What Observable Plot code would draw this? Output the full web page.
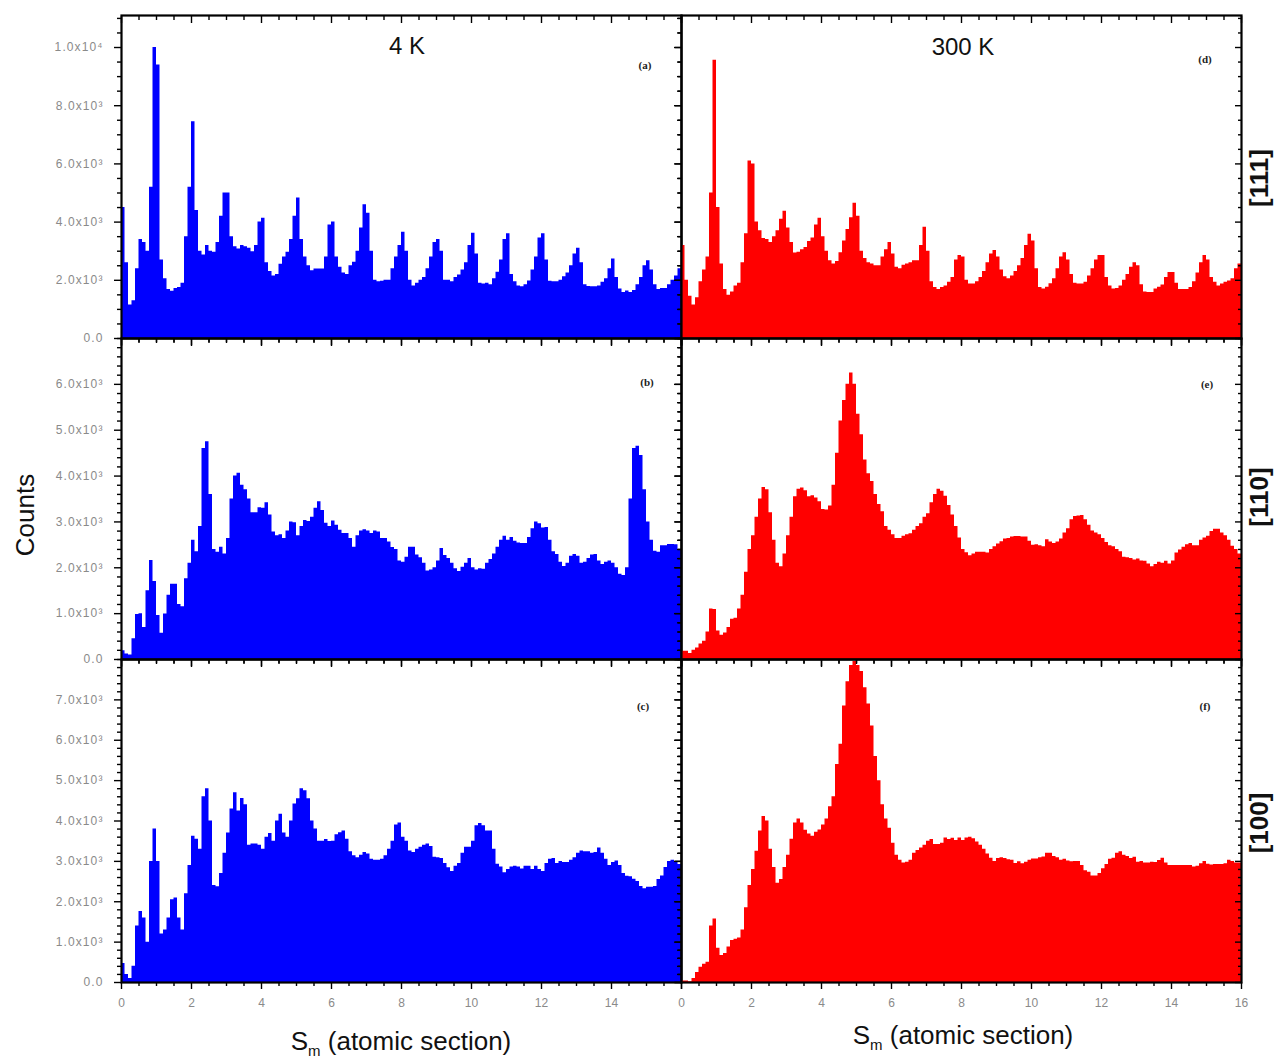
<!DOCTYPE html>
<html><head><meta charset="utf-8">
<script src="https://cdn.jsdelivr.net/npm/d3@7"></script>
<script src="https://cdn.jsdelivr.net/npm/@observablehq/plot@0.6"></script>
<style>
body{margin:0;background:#fff;}
#root{position:relative;width:1274px;height:1059px;overflow:hidden;background:#fff;font-family:"Liberation Sans",Arial,sans-serif;color:#111;}
.abs{position:absolute;transform:translate(-50%,-50%);white-space:nowrap;line-height:1;}
.rot{transform:translate(-50%,-50%) rotate(-90deg);}
.plab{font-family:"Liberation Serif","Times New Roman",serif;font-weight:bold;font-size:11px;color:#222;}
.temp{font-size:24px;}
.dir{font-size:26px;font-weight:bold;}
.xlab{font-size:26px;}
.xlab sub{font-size:15px;vertical-align:-0.45em;}
g[aria-label="y-axis tick label"] text{letter-spacing:1.1px;}
</style></head>
<body><div id="root"></div>
<script>
// ---------- data (counts in units of 10^3) ----------
const binStart = Array.from({length: 160}, (_, i) => i / 10);   // S_m bin starts, width 0.1

// 4 K, [111]  (a)
const countsA = [4.5,2.6,1.15,1.3,2.4,3.4,3.3,3.0,5.2,10.0,
 9.4,2.7,2.05,1.68,1.62,1.72,1.75,1.9,3.5,5.2,
 7.45,4.4,3.0,2.87,3.2,3.0,2.96,3.3,4.2,5.0,
 5.0,3.5,3.15,3.08,3.2,3.15,3.1,2.98,3.2,4.0,
 4.13,2.6,2.3,2.15,2.2,2.55,2.8,2.96,3.4,4.2,
 4.83,3.4,2.8,2.5,2.33,2.39,2.39,2.39,2.8,3.9,
 4.0,2.8,2.45,2.25,2.2,2.5,2.62,3.0,3.8,4.6,
 4.3,3.0,2.0,1.95,1.97,2.0,2.0,2.4,2.8,3.2,
 3.65,3.0,2.0,1.8,1.9,2.0,2.1,2.4,2.8,3.3,
 3.4,3.0,2.0,2.0,1.95,2.1,2.18,2.35,2.6,3.2,
 3.62,2.9,1.9,1.87,1.9,1.85,2.05,2.28,2.7,3.4,
 3.6,2.2,1.95,1.8,1.78,1.85,1.98,2.35,2.8,3.45,
 3.6,2.7,1.97,1.95,1.95,2.0,2.12,2.25,2.5,2.9,
 3.1,2.6,1.85,1.79,1.78,1.78,1.8,1.93,2.05,2.4,
 2.73,2.1,1.7,1.58,1.63,1.58,1.65,1.85,2.1,2.5,
 2.67,2.35,1.85,1.68,1.72,1.72,1.85,2.0,2.15,2.4];

// 4 K, [110]  (b)
const countsB = [0.19,0.12,0.1,0.45,0.98,1.0,0.7,1.5,2.16,1.7,
 0.96,0.57,0.99,1.4,1.64,1.64,1.2,1.15,1.76,2.1,
 2.6,2.35,2.9,4.6,4.75,3.6,2.4,2.34,2.45,2.3,
 2.64,3.5,4.0,4.06,3.8,3.7,3.5,3.2,3.2,3.31,
 3.3,3.42,3.15,2.78,2.7,2.72,2.64,2.8,3.0,2.98,
 2.7,2.9,3.03,3.01,3.1,3.3,3.44,3.25,2.97,2.9,
 3.02,2.93,2.82,2.75,2.75,2.64,2.45,2.7,2.8,2.83,
 2.8,2.75,2.8,2.78,2.64,2.64,2.56,2.44,2.4,2.15,
 2.12,2.23,2.45,2.45,2.28,2.22,2.1,1.93,1.95,2.0,
 2.15,2.42,2.27,2.2,2.1,1.98,1.92,2.01,2.1,2.2,
 2.0,1.95,1.98,1.97,2.1,2.18,2.3,2.45,2.6,2.69,
 2.6,2.66,2.58,2.54,2.53,2.53,2.66,2.85,3.0,2.96,
 2.87,2.88,2.6,2.35,2.29,2.12,2.03,2.1,2.25,2.29,
 2.25,2.1,2.12,2.2,2.28,2.29,2.15,2.07,2.12,2.15,
 2.1,2.0,1.86,1.83,2.0,3.5,4.6,4.65,4.45,3.7,
 3.0,2.6,2.36,2.34,2.48,2.48,2.51,2.51,2.5,2.38];

// 4 K, [100]  (c)
const countsC = [0.47,0.2,0.1,0.4,1.4,1.76,1.6,1.0,3.0,3.8,
 3.0,1.2,1.3,1.6,2.05,2.09,1.6,1.3,2.2,2.9,
 3.62,3.55,3.3,4.6,4.8,4.0,2.4,2.37,2.7,3.2,
 3.7,4.3,4.7,4.25,4.56,4.4,3.4,3.43,3.43,3.4,
 3.3,3.6,3.69,3.5,4.0,4.17,3.7,3.6,4.0,4.42,
 4.55,4.8,4.75,4.55,4.0,3.8,3.5,3.5,3.54,3.49,
 3.5,3.66,3.71,3.75,3.55,3.24,3.14,3.09,3.15,3.22,
 3.18,3.05,3.03,3.03,3.05,3.14,3.3,3.5,3.9,3.95,
 3.6,3.5,3.26,3.22,3.3,3.35,3.4,3.43,3.37,3.1,
 3.09,3.07,2.95,2.84,2.75,2.88,2.95,3.2,3.35,3.35,
 3.5,3.88,3.94,3.88,3.75,3.75,3.3,2.93,2.86,2.72,
 2.8,2.86,2.88,2.86,2.81,2.88,2.88,2.8,2.88,2.8,
 2.75,2.95,3.05,3.07,2.95,3.0,2.97,2.97,3.03,3.09,
 3.2,3.26,3.24,3.24,3.2,3.22,3.33,3.2,3.05,2.9,
 2.97,3.01,2.9,2.7,2.63,2.62,2.56,2.5,2.38,2.32,
 2.36,2.36,2.38,2.55,2.64,2.85,3.0,3.03,2.98,2.92];

// 300 K, [111]  (d)
const countsD = [3.2,2.0,1.45,1.15,1.4,1.95,2.35,2.8,5.0,9.56,
 4.5,2.56,1.68,1.49,1.6,1.8,1.9,2.6,3.6,6.1,
 6.0,4.0,3.7,3.44,3.4,3.3,3.5,3.7,4.1,4.37,
 3.8,3.3,2.94,2.96,3.05,3.13,3.33,3.45,3.9,4.13,
 3.5,3.0,2.67,2.56,2.65,2.95,3.35,3.75,4.15,4.65,
 4.2,3.0,2.75,2.6,2.56,2.5,2.5,2.8,3.05,3.3,
 2.9,2.45,2.4,2.52,2.56,2.6,2.67,2.67,3.2,3.82,
 3.0,1.95,1.75,1.68,1.75,1.8,1.93,2.1,2.7,2.85,
 2.8,2.0,1.87,1.87,1.95,2.1,2.3,2.6,2.9,3.02,
 2.8,2.35,2.12,2.05,2.15,2.3,2.5,2.75,3.2,3.58,
 3.35,2.4,1.75,1.7,1.76,1.88,2.05,2.4,2.8,2.95,
 2.7,2.2,1.9,1.87,1.87,1.93,2.15,2.4,2.7,2.85,
 2.85,2.1,1.8,1.7,1.72,1.8,2.0,2.2,2.45,2.6,
 2.5,1.85,1.6,1.58,1.58,1.7,1.76,1.84,2.1,2.27,
 2.27,1.9,1.68,1.68,1.68,1.75,1.95,2.25,2.6,2.85,
 2.7,2.1,1.93,1.8,1.87,1.93,1.98,2.05,2.4,2.56];

// 300 K, [110]  (e)
const countsE = [0.18,0.18,0.13,0.2,0.25,0.34,0.4,0.6,1.1,1.09,
 0.62,0.53,0.58,0.7,0.88,0.9,1.1,1.4,1.9,2.4,
 2.7,3.1,3.5,3.75,3.7,3.2,2.6,2.1,2.02,2.3,
 2.7,3.1,3.55,3.71,3.74,3.68,3.55,3.57,3.52,3.44,
 3.27,3.26,3.35,3.8,4.5,5.2,5.65,6.0,6.25,6.0,
 5.35,4.9,4.35,4.05,3.88,3.6,3.38,3.22,2.9,2.82,
 2.72,2.64,2.64,2.69,2.72,2.74,2.82,2.9,2.96,3.1,
 3.18,3.42,3.6,3.71,3.67,3.56,3.36,3.15,2.9,2.65,
 2.4,2.33,2.26,2.3,2.34,2.34,2.34,2.32,2.4,2.46,
 2.52,2.57,2.63,2.64,2.67,2.68,2.68,2.67,2.67,2.58,
 2.49,2.5,2.48,2.46,2.61,2.56,2.53,2.56,2.63,2.76,
 2.85,3.05,3.12,3.13,3.14,3.05,2.93,2.8,2.76,2.72,
 2.64,2.55,2.48,2.46,2.4,2.35,2.23,2.22,2.2,2.17,
 2.19,2.15,2.14,2.08,2.02,2.07,2.12,2.1,2.14,2.08,
 2.15,2.32,2.39,2.45,2.5,2.53,2.48,2.48,2.6,2.65,
 2.69,2.79,2.84,2.84,2.76,2.7,2.6,2.47,2.4,2.3];

// 300 K, [100]  (f)
const countsF = [0.04,0.04,0.02,0.1,0.25,0.38,0.45,0.5,1.4,1.57,
 0.85,0.67,0.72,0.88,1.04,1.07,1.1,1.3,1.85,2.4,
 2.8,3.25,3.75,4.11,4.0,3.3,2.85,2.46,2.55,2.85,
 3.15,3.55,3.95,4.05,3.95,3.77,3.68,3.62,3.72,3.78,
 3.9,4.05,4.35,4.6,5.4,5.9,6.85,7.45,7.85,7.95,
 7.85,7.7,7.3,6.9,6.35,5.6,5.0,4.4,4.05,3.82,
 3.45,3.15,3.03,2.96,2.98,3.03,3.2,3.27,3.33,3.4,
 3.5,3.54,3.42,3.42,3.45,3.58,3.54,3.57,3.52,3.58,
 3.52,3.58,3.6,3.56,3.48,3.4,3.3,3.18,3.08,3.0,
 3.07,3.09,3.07,3.04,3.03,2.95,2.99,2.94,2.98,3.03,
 3.06,3.06,3.09,3.11,3.2,3.2,3.12,3.09,3.03,3.05,
 3.01,2.99,3.0,3.0,2.9,2.77,2.73,2.64,2.64,2.7,
 2.82,2.92,3.05,3.08,3.2,3.24,3.15,3.12,3.07,3.1,
 2.98,3.0,2.96,2.96,2.98,2.97,3.02,3.08,2.96,2.9,
 2.9,2.9,2.9,2.9,2.9,2.9,2.86,2.88,2.94,3.0,
 2.93,2.91,2.92,2.92,2.92,2.94,3.03,3.0,2.96,2.96];

// tick values
const xMajorTicks = [0, 2, 4, 6, 8, 10, 12, 14, 16];
const xLabelsLeft = [0, 2, 4, 6, 8, 10, 12, 14];
const xLabelsRight = [0, 2, 4, 6, 8, 10, 12, 14, 16];
const yTicksTop = [0, 2, 4, 6, 8, 10];
const yTicksMid = [0, 1, 2, 3, 4, 5, 6];
const yTicksBot = [0, 1, 2, 3, 4, 5, 6, 7];

// ---------- layout ----------
const root = document.getElementById("root");
const colLeft = [121, 681];
const rowTop = [15, 338, 659];
const rowH = [323, 321, 323];
const rowMax = [11.1, 7, 8];
const rowMajor = [yTicksTop, yTicksMid, yTicksBot];
const rowMinorStep = [0.5, 0.2, 0.2];
const panelW = 560;

const xMinorTicks = d3.range(0, 33).map(k => k / 2).filter(v => v % 2 !== 0);
const sup = {3: "\u00b3", 4: "\u2074"};
function fmtY(v) {
  if (v === 0) return "0.0";
  if (v >= 10) return (v / 10).toFixed(1) + "x10" + sup[4];
  return v.toFixed(1) + "x10" + sup[3];
}

function panel(values, color, row, col) {
  const mL = 110, mR = 30, mT = 10, mB = 40;
  const data = binStart.map((x, i) => ({x, y: values[i]}));
  data.push({x: 16, y: values[values.length - 1]});
  const ymax = rowMax[row];
  const yMajor = rowMajor[row];
  const step = rowMinorStep[row];
  const yMinor = d3.range(0, Math.round(ymax / step) + 1).map(k => +(k * step).toFixed(2))
    .filter(v => v <= ymax && !yMajor.includes(v));
  const blank = () => "";
  const tk = {stroke: "black", strokeWidth: 1.4, label: null};
  const marks = [
    Plot.areaY(data, {x: "x", y: "y", curve: "step-after", fill: color}),
    Plot.axisY(yMajor, {anchor: "left", tickSize: 7, tickFormat: blank, ...tk}),
    Plot.axisY(yMinor, {anchor: "left", tickSize: 4, tickFormat: blank, ...tk}),
    Plot.axisY(yMajor, {anchor: "right", tickSize: -7, tickFormat: blank, ...tk}),
    Plot.axisY(yMinor, {anchor: "right", tickSize: -4, tickFormat: blank, ...tk}),
    Plot.axisX(xMajorTicks, {anchor: "bottom", tickSize: 7, tickFormat: blank, ...tk}),
    Plot.axisX(xMinorTicks, {anchor: "bottom", tickSize: 4, tickFormat: blank, ...tk}),
    Plot.axisX(xMajorTicks, {anchor: "top", tickSize: -7, tickFormat: blank, ...tk}),
    Plot.axisX(xMinorTicks, {anchor: "top", tickSize: -4, tickFormat: blank, ...tk}),
    Plot.frame({stroke: "black", strokeWidth: 2.2})
  ];
  if (col === 0) {
    marks.push(Plot.axisY(yMajor, {anchor: "left", tickSize: 0, tickPadding: 18, tickFormat: fmtY,
      fill: "#8a8a8a", fontSize: 12, label: null}));
  }
  if (row === 2) {
    marks.push(Plot.axisX(col === 0 ? xLabelsLeft : xLabelsRight, {anchor: "bottom", tickSize: 0, tickPadding: 16,
      tickFormat: d => String(d), fill: "#8a8a8a", fontSize: 12, label: null}));
  }
  const svg = Plot.plot({
    width: panelW + mL + mR,
    height: rowH[row] + mT + mB,
    marginLeft: mL, marginRight: mR, marginTop: mT, marginBottom: mB,
    x: {domain: [0, 16]},
    y: {domain: [0, ymax]},
    style: {background: "transparent", overflow: "visible", fontFamily: "Liberation Sans, Arial, sans-serif", fontSize: "12px"},
    marks
  });
  svg.style.position = "absolute";
  svg.style.left = (colLeft[col] - mL) + "px";
  svg.style.top = (rowTop[row] - mT) + "px";
  root.appendChild(svg);
}

panel(countsA, "#0000ff", 0, 0);
panel(countsB, "#0000ff", 1, 0);
panel(countsC, "#0000ff", 2, 0);
panel(countsD, "#ff0000", 0, 1);
panel(countsE, "#ff0000", 1, 1);
panel(countsF, "#ff0000", 2, 1);

// ---------- text ----------
function addText(html, x, y, cls) {
  const d = document.createElement("div");
  d.className = "abs " + cls;
  d.innerHTML = html;
  d.style.left = x + "px";
  d.style.top = y + "px";
  root.appendChild(d);
}
addText("4 K", 407, 46, "temp");
addText("300 K", 963, 47, "temp");
addText("(a)", 645, 65, "plab");
addText("(b)", 647, 382, "plab");
addText("(c)", 643, 706, "plab");
addText("(d)", 1205, 59, "plab");
addText("(e)", 1207, 384, "plab");
addText("(f)", 1205, 706, "plab");
addText("[111]", 1259, 178, "dir rot");
addText("[110]", 1259, 497, "dir rot");
addText("[100]", 1259, 823, "dir rot");
addText("Counts", 25, 515, "xlab rot");
addText("S<sub>m</sub> (atomic section)", 401, 1043, "xlab");
addText("S<sub>m</sub> (atomic section)", 963, 1037, "xlab");
</script>
</body></html>
